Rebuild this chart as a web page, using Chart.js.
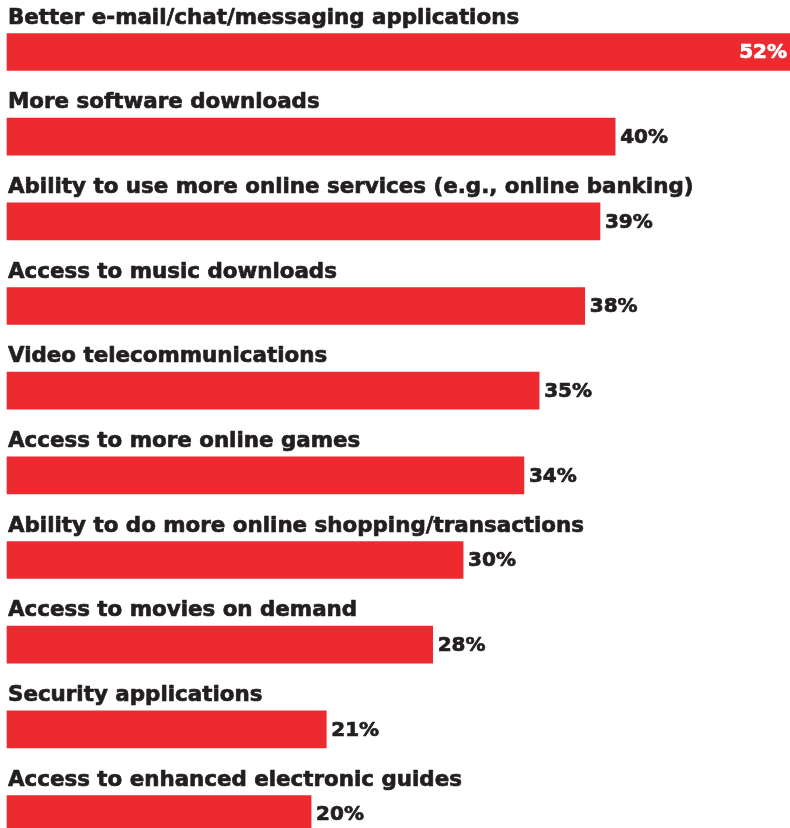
<!DOCTYPE html>
<html>
<head>
<meta charset="utf-8">
<script src="https://cdn.jsdelivr.net/npm/chart.js@4"></script>
<style>
  html, body { margin: 0; padding: 0; background: #fff; }
  #wrap { width: 790px; height: 828px; position: relative; }
</style>
</head>
<body>
<div id="wrap"><canvas id="bars"></canvas></div>
<script>
const categories = [
  "Better e-mail/chat/messaging applications",
  "More software downloads",
  "Ability to use more online services (e.g., online banking)",
  "Access to music downloads",
  "Video telecommunications",
  "Access to more online games",
  "Ability to do more online shopping/transactions",
  "Access to movies on demand",
  "Security applications",
  "Access to enhanced electronic guides"
];
const percents = [52, 40, 39, 38, 35, 34, 30, 28, 21, 20];

const RED = "#ec2a2f";
const INK = "#231f20";
const FONT = "'DejaVu Sans', sans-serif";
const BAR_H = 37;

// heavy text: fill plus a thin stroke in the same colour
function heavyText(ctx, txt, x, y, color) {
  ctx.fillStyle = color;
  ctx.strokeStyle = color;
  ctx.lineWidth = 0.7;
  ctx.lineJoin = "round";
  ctx.fillText(txt, x, y);
  ctx.strokeText(txt, x, y);
}

// category text sits above each bar, the value to the right of it
// (or inside, in white, when the bar runs off the edge)
const barLabels = {
  id: "barLabels",
  afterDatasetsDraw(chart) {
    const ctx = chart.ctx;
    const meta = chart.getDatasetMeta(0);
    const area = chart.chartArea;
    ctx.save();
    meta.data.forEach((bar, i) => {
      const top = bar.y - BAR_H / 2;
      ctx.font = "bold 21.4px " + FONT;
      ctx.textAlign = "left";
      ctx.textBaseline = "alphabetic";
      heavyText(ctx, categories[i], 8, top - 10, INK);

      const txt = percents[i] + "%";
      ctx.font = "bold 20px " + FONT;
      ctx.textBaseline = "middle";
      if (bar.x > area.right - 20) {
        ctx.textAlign = "right";
        heavyText(ctx, txt, chart.width - 3, bar.y + 1, "#fff");
      } else {
        ctx.textAlign = "left";
        heavyText(ctx, txt, bar.x + 5, bar.y + 1, INK);
      }
    });
    ctx.restore();
  }
};

new Chart(document.getElementById("bars"), {
  type: "bar",
  data: {
    labels: categories,
    datasets: [{
      data: percents,
      backgroundColor: RED,
      borderWidth: 0,
      barThickness: BAR_H,
      clip: false
    }]
  },
  options: {
    indexAxis: "y",
    responsive: true,
    maintainAspectRatio: false,
    animation: false,
    layout: { padding: { left: 7, right: 0, top: 52, bottom: 14 } },
    scales: {
      x: { display: false, min: 0, max: 51.5 },
      y: { display: false, offset: false }
    },
    plugins: {
      legend: { display: false },
      tooltip: { enabled: false }
    }
  },
  plugins: [barLabels]
});
</script>
</body>
</html>
